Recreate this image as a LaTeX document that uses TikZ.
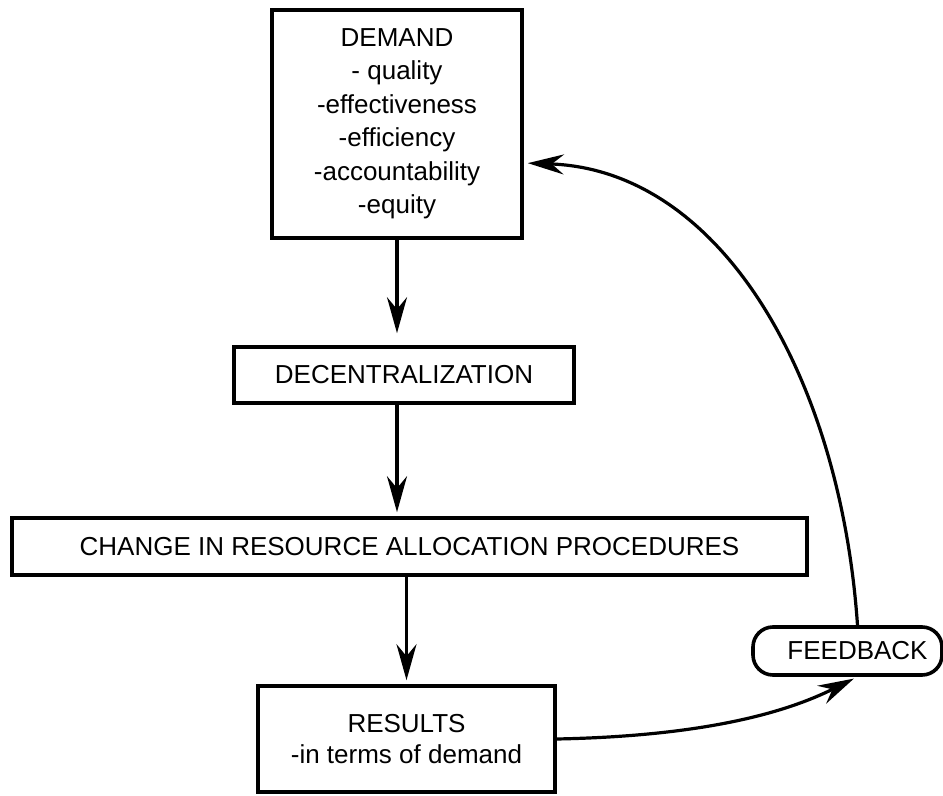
\documentclass[tikz,border=0pt]{standalone}
\usepackage{fontspec}
\setmainfont{Liberation Sans}
\usetikzlibrary{arrows.meta}

\begin{document}
\begin{tikzpicture}[x=0.5pt, y=-0.5pt,
    box/.style={draw, line width=1.8pt, inner sep=0pt, align=center, font=\fontsize{13}{16.75}\selectfont},
    arr/.style={line width=1.6pt, -{Stealth[length=18pt, width=10pt, inset=6pt]}, shorten >=2pt}]
  \useasboundingbox (0,0) rectangle (943,796);

  % Draw the boxes
  \node[box, minimum width=125pt, minimum height=114pt] (demand) at (397,124)
    {DEMAND\\ - quality\\ -effectiveness\\ -efficiency\\ -accountability\\ -equity};
  \node[box, minimum width=170pt, minimum height=28pt] (decentral) at (404,375) {DECENTRALIZATION};
  \node[box, minimum width=397.5pt, minimum height=28.5pt] (change) at (409.5,546.5)
    {CHANGE IN RESOURCE ALLOCATION PROCEDURES};
  \node[box, minimum width=148.5pt, minimum height=53pt] (results) at (406.5,739)
    {RESULTS\\[-1pt] -in terms of demand};
  \node[box, rounded corners=10pt, minimum width=94.5pt, minimum height=24pt] (feedback) at (847.5,651)
    {\hspace{10pt}FEEDBACK};

  % Draw the arrows down
  \draw[arr, shorten >=6pt] (demand.south) -- (demand.south |- decentral.north);
  \draw[arr] (decentral.south -| demand.south) -- (change.north -| demand.south);
  \draw[arr] (change.south -| results.north) -- (results.north);

  % Draw the feedback loop
  \draw[arr] (results.east) .. controls +(150,-3) and +(-70,35) .. ([xshift=5pt]feedback.south);
  \draw[arr] ([xshift=5pt]feedback.north) .. controls +(-17,-247) and +(198,7) .. ([yshift=-19.5pt]demand.east);
\end{tikzpicture}
\end{document}
